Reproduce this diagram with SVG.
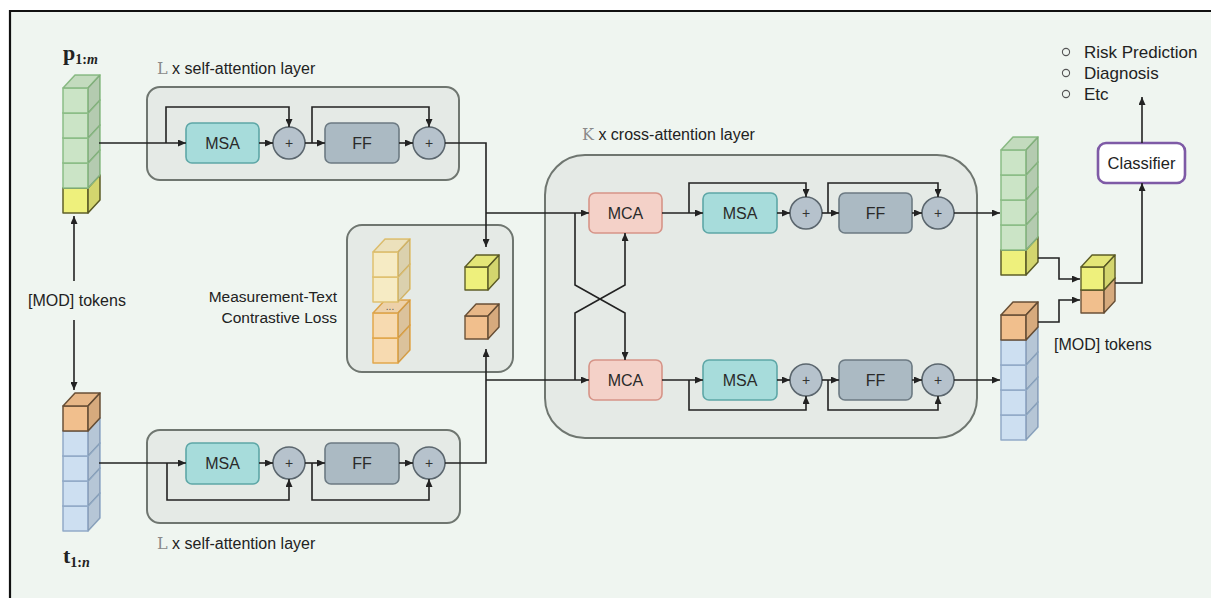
<svg xmlns="http://www.w3.org/2000/svg" xmlns:xlink="http://www.w3.org/1999/xlink" width="1211" height="598" viewBox="0 0 1211 598">
  <style>
    .lbl { font-family: "Liberation Sans", Arial, sans-serif; fill: #222; }
    .box-t { font-family: "Liberation Sans", Arial, sans-serif; font-size: 16px; fill: #2a2a2a; text-anchor: middle; }
    .plus-t { font-family: "Liberation Sans", Arial, sans-serif; font-size: 14px; fill: #333; text-anchor: middle; }
    .math { font-family: "Liberation Serif", "DejaVu Serif", serif; fill: #222; }
    .sym { font-family: "DejaVu Serif", "Liberation Serif", serif; fill: #8a8a8a; }
    .layer { fill: #e5eae6; stroke: #6f7670; stroke-width: 2; }
    .msa { fill: #a7dcdb; stroke: #5ea7a7; stroke-width: 1.6; }
    .ff { fill: #abbac3; stroke: #6c7a83; stroke-width: 1.6; }
    .mca { fill: #f4d1c8; stroke: #d69488; stroke-width: 1.6; }
    .plus { fill: #b6c2cc; stroke: #5b666e; stroke-width: 1.6; }
    .wire { fill: none; stroke: #222; stroke-width: 1.6; }
    .arr { marker-end: url(#ah); }
    .cg { fill: #cbe4c6; stroke: #8cbd86; }
    .cy { fill: #eef07c; stroke: #5f5f28; }
    .co { fill: #f1bf8d; stroke: #6b5238; }
    .cb { fill: #cddff1; stroke: #92abc7; }
    .cpy { fill: #f6ebc4; stroke: #e0c170; }
    .cpo { fill: #f7dab0; stroke: #e2a84c; }
  </style>
  <defs>
    <marker id="ah" viewBox="0 0 8 7" markerWidth="8" markerHeight="7" refX="8" refY="3.5" orient="auto" markerUnits="userSpaceOnUse">
      <path d="M0,0 L8,3.5 L0,7 z" fill="#222"/>
    </marker>
    <!-- unit cube: front face 25x25 at origin, depth offset (12,-13) -->
    <g id="cube" stroke-width="1.5" stroke-linejoin="round">
      <path d="M0,0 h25 v25 h-25 z"/>
      <path d="M0,0 l12,-13 h25 l-12,13 z"/>
      <path d="M25,0 l12,-13 v25 l-12,13 z"/>
      <path d="M0,0 l12,-13 h25 l-12,13 z" fill="#000" fill-opacity="0.04" stroke="none"/>
      <path d="M25,0 l12,-13 v25 l-12,13 z" fill="#000" fill-opacity="0.11" stroke="none"/>
    </g>
  </defs>

  <!-- page and frame -->
  <rect x="0" y="0" width="1211" height="598" fill="#ffffff"/>
  <rect x="10" y="11" width="1201" height="587" fill="#eff5f0"/>
  <path d="M10,598 V11 H1211" fill="none" stroke="#111" stroke-width="2.2"/>

  <!-- measurement token stack p_1:m -->
  <g id="stack-p">
    <text class="math" x="63" y="60" font-size="22" font-weight="bold">p<tspan font-size="14" dy="4">1:</tspan><tspan font-size="14" font-style="italic">m</tspan></text>
    <use xlink:href="#cube" class="cy" x="63" y="188"/>
    <use xlink:href="#cube" class="cg" x="63" y="163"/>
    <use xlink:href="#cube" class="cg" x="63" y="138"/>
    <use xlink:href="#cube" class="cg" x="63" y="113"/>
    <use xlink:href="#cube" class="cg" x="63" y="88"/>
  </g>

  <!-- text token stack t_1:n -->
  <g id="stack-t">
    <use xlink:href="#cube" class="cb" x="63" y="506"/>
    <use xlink:href="#cube" class="cb" x="63" y="481"/>
    <use xlink:href="#cube" class="cb" x="63" y="456"/>
    <use xlink:href="#cube" class="cb" x="63" y="431"/>
    <use xlink:href="#cube" class="co" x="63" y="406"/>
    <text class="math" x="63" y="563" font-size="22" font-weight="bold">t<tspan font-size="14" dy="4">1:</tspan><tspan font-size="14" font-style="italic">n</tspan></text>
  </g>

  <g id="mod-label-left">
    <text class="lbl" x="77" y="306" font-size="16" text-anchor="middle">[MOD] tokens</text>
  </g>

  <!-- self-attention layer, measurement branch -->
  <g id="sa-top">
    <text class="lbl" x="157" y="74" font-size="16"><tspan class="sym">L</tspan> x self-attention layer</text>
    <rect class="layer" x="147" y="87" width="312" height="93" rx="13"/>
    <rect class="msa" x="186" y="123" width="73" height="40" rx="6"/>
    <text class="box-t" x="222.5" y="148.5">MSA</text>
    <circle class="plus" cx="289" cy="143" r="16"/>
    <text class="plus-t" x="289" y="148">+</text>
    <rect class="ff" x="325" y="123" width="74" height="40" rx="6"/>
    <text class="box-t" x="362" y="148.5">FF</text>
    <circle class="plus" cx="429" cy="143" r="16"/>
    <text class="plus-t" x="429" y="148">+</text>
  </g>

  <!-- self-attention layer, text branch -->
  <g id="sa-bottom">
    <rect class="layer" x="147" y="430" width="313" height="93" rx="13"/>
    <rect class="msa" x="186" y="443" width="73" height="41" rx="6"/>
    <text class="box-t" x="222.5" y="469">MSA</text>
    <circle class="plus" cx="289" cy="463" r="16"/>
    <text class="plus-t" x="289" y="468">+</text>
    <rect class="ff" x="325" y="443" width="74" height="41" rx="6"/>
    <text class="box-t" x="362" y="469">FF</text>
    <circle class="plus" cx="429" cy="463" r="16"/>
    <text class="plus-t" x="429" y="468">+</text>
    <text class="lbl" x="157" y="549" font-size="16"><tspan class="sym">L</tspan> x self-attention layer</text>
  </g>

  <!-- measurement-text contrastive loss -->
  <g id="contrastive">
    <text class="lbl" x="337" y="302" font-size="15.5" text-anchor="end">Measurement-Text</text>
    <text class="lbl" x="337" y="323" font-size="15.5" text-anchor="end">Contrastive Loss</text>
    <rect class="layer" x="347" y="225" width="166" height="147" rx="15"/>
    <use xlink:href="#cube" class="cpo" x="373" y="338"/>
    <use xlink:href="#cube" class="cpo" x="373" y="313"/>
    <use xlink:href="#cube" class="cpy" x="373" y="277"/>
    <use xlink:href="#cube" class="cpy" x="373" y="252"/>
    <text x="390" y="310" font-family="Liberation Sans, sans-serif" font-size="10" fill="#555" text-anchor="middle">...</text>
    <use xlink:href="#cube" class="cy" transform="translate(465,267) scale(0.92)"/>
    <use xlink:href="#cube" class="co" transform="translate(465,316) scale(0.92)"/>
  </g>

  <!-- cross-attention layer -->
  <g id="cross-attention">
    <text class="lbl" x="582" y="140" font-size="16"><tspan class="sym">K</tspan>  x cross-attention layer</text>
    <rect class="layer" x="545" y="155" width="432" height="283" rx="40"/>
    <rect class="mca" x="589" y="193" width="73" height="40" rx="6"/>
    <text class="box-t" x="625.5" y="218.5">MCA</text>
    <rect class="msa" x="703" y="193" width="74" height="40" rx="6"/>
    <text class="box-t" x="740" y="218.5">MSA</text>
    <circle class="plus" cx="806" cy="213" r="16"/>
    <text class="plus-t" x="806" y="218">+</text>
    <rect class="ff" x="839" y="193" width="73" height="40" rx="6"/>
    <text class="box-t" x="875.5" y="218.5">FF</text>
    <circle class="plus" cx="938" cy="213" r="16"/>
    <text class="plus-t" x="938" y="218">+</text>

    <rect class="mca" x="589" y="360" width="73" height="40" rx="6"/>
    <text class="box-t" x="625.5" y="385.5">MCA</text>
    <rect class="msa" x="703" y="360" width="74" height="40" rx="6"/>
    <text class="box-t" x="740" y="385.5">MSA</text>
    <circle class="plus" cx="806" cy="380" r="16"/>
    <text class="plus-t" x="806" y="385">+</text>
    <rect class="ff" x="839" y="360" width="73" height="40" rx="6"/>
    <text class="box-t" x="875.5" y="385.5">FF</text>
    <circle class="plus" cx="938" cy="380" r="16"/>
    <text class="plus-t" x="938" y="385">+</text>
  </g>

  <!-- output stacks -->
  <g id="out-p">
    <use xlink:href="#cube" class="cy" x="1001" y="250"/>
    <use xlink:href="#cube" class="cg" x="1001" y="225"/>
    <use xlink:href="#cube" class="cg" x="1001" y="200"/>
    <use xlink:href="#cube" class="cg" x="1001" y="175"/>
    <use xlink:href="#cube" class="cg" x="1001" y="150"/>
  </g>
  <g id="out-t">
    <use xlink:href="#cube" class="cb" x="1001" y="415"/>
    <use xlink:href="#cube" class="cb" x="1001" y="390"/>
    <use xlink:href="#cube" class="cb" x="1001" y="365"/>
    <use xlink:href="#cube" class="cb" x="1001" y="340"/>
    <use xlink:href="#cube" class="co" x="1001" y="315"/>
  </g>
  <g id="mod-label-right">
    <text class="lbl" x="1054" y="350" font-size="16">[MOD] tokens</text>
  </g>
  <g id="mod-pair">
    <use xlink:href="#cube" class="co" transform="translate(1081,290) scale(0.92)"/>
    <use xlink:href="#cube" class="cy" transform="translate(1081,267) scale(0.92)"/>
  </g>

  <g id="classifier">
    <rect x="1098" y="143" width="87" height="40" rx="8" fill="#ffffff" stroke="#7e5aa6" stroke-width="2.6"/>
    <text class="lbl" x="1141.5" y="169" font-size="16.5" text-anchor="middle">Classifier</text>
  </g>

  <g id="tasks">
    <circle cx="1066" cy="52" r="3.6" fill="none" stroke="#555" stroke-width="1.1"/>
    <circle cx="1066" cy="73" r="3.6" fill="none" stroke="#555" stroke-width="1.1"/>
    <circle cx="1066" cy="94" r="3.6" fill="none" stroke="#555" stroke-width="1.1"/>
    <text class="lbl" x="1084" y="58" font-size="17">Risk Prediction</text>
    <text class="lbl" x="1084" y="79" font-size="17">Diagnosis</text>
    <text class="lbl" x="1084" y="100" font-size="17">Etc</text>
  </g>

  <!-- connectors -->
  <g id="connectors">
    <!-- [MOD] token arrows -->
    <path class="wire arr" d="M74,281 V216"/>
    <path class="wire arr" d="M74,320 V390"/>

    <!-- measurement self-attention -->
    <path class="wire arr" d="M99,143 H186"/>
    <path class="wire arr" d="M166,143 V107 H289 V127"/>
    <path class="wire arr" d="M259,143 H273"/>
    <path class="wire arr" d="M305,143 H325"/>
    <path class="wire arr" d="M312,143 V107 H429 V127"/>
    <path class="wire arr" d="M399,143 H413"/>
    <path class="wire arr" d="M445,143 H486 V247"/>
    <path class="wire arr" d="M486,213 H589"/>

    <!-- text self-attention -->
    <path class="wire arr" d="M99,463 H186"/>
    <path class="wire arr" d="M167,463 V500 H289 V479"/>
    <path class="wire arr" d="M259,463 H273"/>
    <path class="wire arr" d="M305,463 H325"/>
    <path class="wire arr" d="M312,463 V500 H429 V479"/>
    <path class="wire arr" d="M399,463 H413"/>
    <path class="wire arr" d="M445,463 H486 V349"/>
    <path class="wire arr" d="M486,380 H589"/>

    <!-- crossing inputs to MCA -->
    <path class="wire arr" d="M575,213 V285 L625,313 V360"/>
    <path class="wire arr" d="M575,380 V313 L625,285 V233"/>

    <!-- cross-attention, upper row -->
    <path class="wire arr" d="M662,213 H703"/>
    <path class="wire arr" d="M689,213 V183 H806 V197"/>
    <path class="wire arr" d="M777,213 H790"/>
    <path class="wire arr" d="M822,213 H839"/>
    <path class="wire arr" d="M828,213 V183 H938 V197"/>
    <path class="wire arr" d="M912,213 H922"/>
    <path class="wire arr" d="M954,213 H1000"/>

    <!-- cross-attention, lower row -->
    <path class="wire arr" d="M662,380 H703"/>
    <path class="wire arr" d="M689,380 V410 H806 V396"/>
    <path class="wire arr" d="M777,380 H790"/>
    <path class="wire arr" d="M822,380 H839"/>
    <path class="wire arr" d="M828,380 V410 H938 V396"/>
    <path class="wire arr" d="M912,380 H922"/>
    <path class="wire arr" d="M954,380 H1000"/>

    <!-- [MOD] tokens to classifier -->
    <path class="wire arr" d="M1038,258 H1059 V279 H1080"/>
    <path class="wire arr" d="M1038,322 H1059 V300 H1080"/>
    <path class="wire arr" d="M1115,283 H1142 V183"/>
    <path class="wire arr" d="M1142,143 V97"/>
  </g>
</svg>
